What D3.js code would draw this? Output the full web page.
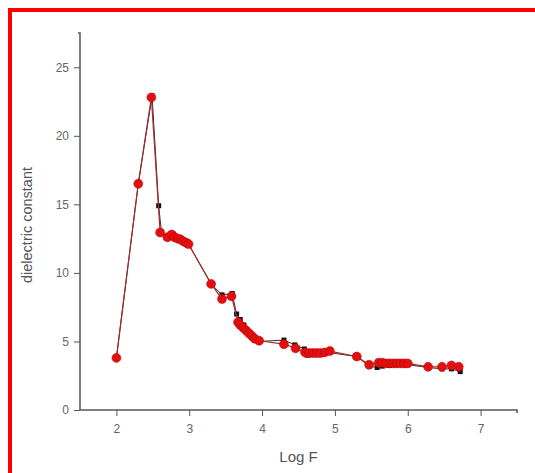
<!DOCTYPE html>
<html>
<head>
<meta charset="utf-8">
<script src="https://cdn.jsdelivr.net/npm/d3@7"></script>
<style>
body { margin: 0; background: #fff; }
text { font-family: "Liberation Sans", Arial, sans-serif; }
</style>
</head>
<body>
<div id="chart"></div>
<script>
// red circles series (log F, dielectric constant)
var logF_red = [2.0, 2.3, 2.48, 2.6, 2.7, 2.76, 2.8, 2.84, 2.88, 2.92, 2.96, 2.99,
  3.3, 3.45, 3.58, 3.67, 3.7, 3.74, 3.78, 3.82, 3.86, 3.9, 3.96,
  4.3, 4.46, 4.59, 4.65, 4.7, 4.75, 4.8, 4.86, 4.93,
  5.3, 5.47, 5.6, 5.65, 5.7, 5.75, 5.8, 5.85, 5.9, 5.95, 6.0,
  6.28, 6.47, 6.6, 6.7];
var eps_red = [3.8, 16.5, 22.8, 12.95, 12.6, 12.8, 12.6, 12.5, 12.45, 12.3, 12.2, 12.1,
  9.2, 8.1, 8.3, 6.4, 6.2, 6.0, 5.8, 5.6, 5.4, 5.2, 5.05,
  4.8, 4.5, 4.2, 4.15, 4.15, 4.15, 4.15, 4.2, 4.3,
  3.9, 3.3, 3.45, 3.45, 3.4, 3.4, 3.4, 3.4, 3.4, 3.4, 3.4,
  3.15, 3.15, 3.25, 3.15];

// black squares series (mostly hidden behind the red one)
var logF_black = [2.0, 2.3, 2.49, 2.58, 2.62, 2.7, 2.78, 2.85, 2.92, 2.99,
  3.3, 3.45, 3.59, 3.65, 3.7, 3.75, 3.8, 3.85, 3.9, 3.96,
  4.3, 4.45, 4.58, 4.62, 4.7, 4.8, 4.9,
  5.3, 5.47, 5.58, 5.65, 5.75, 5.85, 5.95, 6.0,
  6.28, 6.47, 6.6, 6.72];
var eps_black = [3.8, 16.5, 22.9, 14.9, 12.9, 12.6, 12.8, 12.5, 12.3, 12.1,
  9.2, 8.4, 8.5, 7.0, 6.6, 6.2, 5.8, 5.5, 5.2, 5.0,
  5.1, 4.75, 4.45, 4.0, 4.1, 4.1, 4.2,
  3.9, 3.2, 3.1, 3.2, 3.25, 3.3, 3.3, 3.3,
  3.1, 3.0, 3.0, 2.8];

var xTicks = [2, 3, 4, 5, 6, 7];
var yTicks = [0, 5, 10, 15, 20, 25];

var width = 535, height = 473;
var margin = {top: 33, right: 18, bottom: 63, left: 80};

var svg = d3.select('#chart').append('svg')
  .attr('width', width)
  .attr('height', height);

// red frame (top and left edges)
svg.append('path')
  .attr('d', 'M10,' + height + ' L10,10 L' + width + ',10')
  .attr('fill', 'none')
  .attr('stroke', '#ff0000')
  .attr('stroke-width', 4);

var x = d3.scaleLinear().domain([1.5, 7.5]).range([margin.left, width - margin.right]);
var y = d3.scaleLinear().domain([0, 27.5]).range([height - margin.bottom, margin.top]);

var axisColor = '#555';

// minor ticks
var xMinor = d3.range(1.5, 7.51, 0.5).filter(function(d) { return d % 1 !== 0; });
var yMinor = d3.range(2.5, 27.5, 5);

var gx = svg.append('g')
  .attr('transform', 'translate(0,' + y(0) + ')');
gx.call(d3.axisBottom(x).tickValues(xMinor).tickSize(3).tickFormat(''));
gx.call(d3.axisBottom(x).tickValues(xTicks).tickSize(6).tickPadding(8).tickFormat(d3.format('d')));
gx.selectAll('path').attr('stroke', axisColor).attr('stroke-width', 1.5).attr('d', 'M' + x(1.5) + ',0H' + x(7.5) + 'V3');
gx.selectAll('line').attr('stroke', axisColor);
gx.selectAll('text').attr('fill', '#666').style('font-size', '12px');

var gy = svg.append('g')
  .attr('transform', 'translate(' + x(1.5) + ',0)');
gy.call(d3.axisLeft(y).tickValues(yMinor).tickSize(3).tickFormat(''));
gy.call(d3.axisLeft(y).tickValues(yTicks).tickSize(6).tickPadding(5).tickFormat(d3.format('d')));
gy.selectAll('path').attr('stroke', axisColor).attr('stroke-width', 1.5).attr('d', 'M-2,' + y(27.5) + 'H0V' + y(0));
gy.selectAll('line').attr('stroke', axisColor);
gy.selectAll('text').attr('fill', '#666').style('font-size', '12px');

// axis titles
svg.append('text')
  .attr('x', (x(1.5) + x(7.5)) / 2)
  .attr('y', 462)
  .attr('text-anchor', 'middle')
  .attr('fill', '#555')
  .style('font-size', '15px')
  .text('Log F');

svg.append('text')
  .attr('transform', 'translate(32,' + 225 + ') rotate(-90)')
  .attr('text-anchor', 'middle')
  .attr('fill', '#555')
  .style('font-size', '14.5px')
  .text('dielectric constant');

var line = d3.line()
  .x(function(d) { return x(d[0]); })
  .y(function(d) { return y(d[1]); });

var black = d3.zip(logF_black, eps_black);
var red = d3.zip(logF_red, eps_red);

svg.append('path')
  .datum(black)
  .attr('d', line)
  .attr('fill', 'none')
  .attr('stroke', '#333')
  .attr('stroke-width', 1);

svg.selectAll('rect.blk')
  .data(black)
  .enter().append('rect')
  .attr('class', 'blk')
  .attr('x', function(d) { return x(d[0]) - 2.5; })
  .attr('y', function(d) { return y(d[1]) - 2.5; })
  .attr('width', 5)
  .attr('height', 5)
  .attr('fill', '#111');

svg.append('path')
  .datum(red)
  .attr('d', line)
  .attr('fill', 'none')
  .attr('stroke', '#a52a2a')
  .attr('stroke-width', 1.2);

svg.selectAll('circle.red')
  .data(red)
  .enter().append('circle')
  .attr('class', 'red')
  .attr('cx', function(d) { return x(d[0]); })
  .attr('cy', function(d) { return y(d[1]); })
  .attr('r', 4.5)
  .attr('fill', '#e01010')
  .attr('stroke', '#c00000')
  .attr('stroke-width', 0.5);
</script>
</body>
</html>
